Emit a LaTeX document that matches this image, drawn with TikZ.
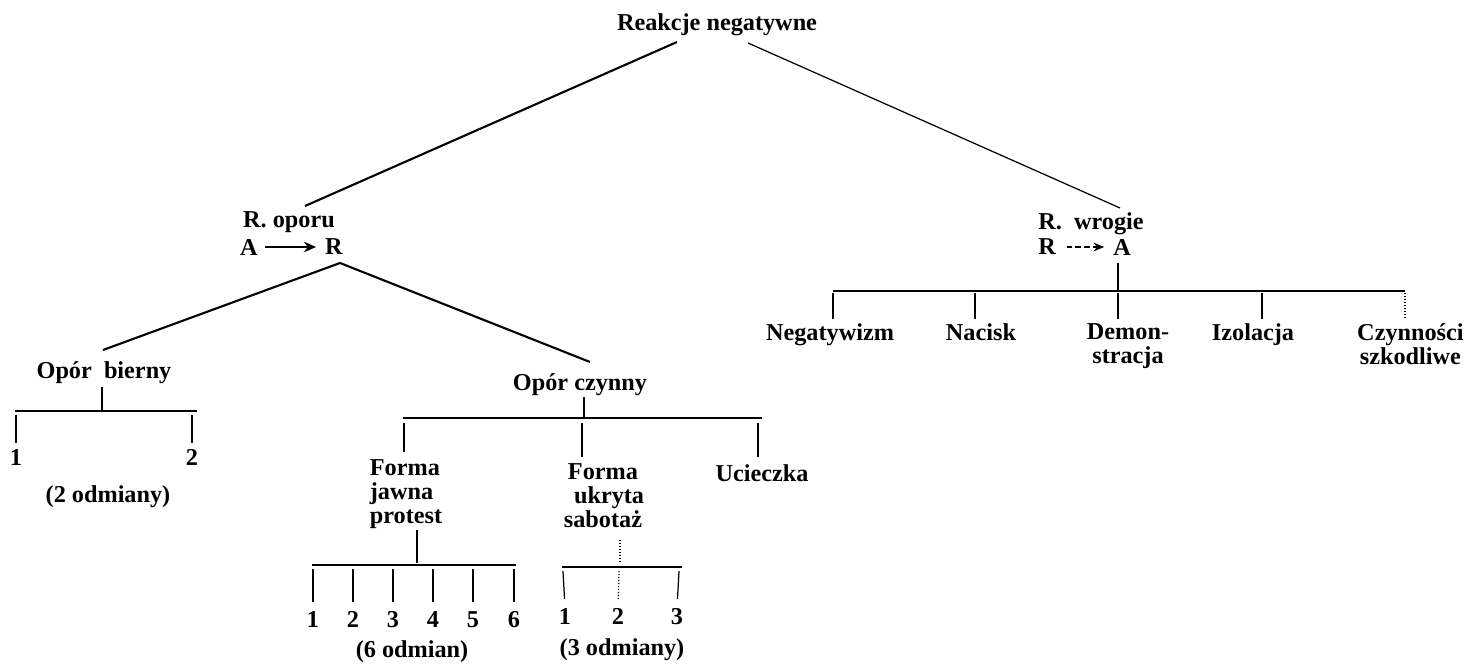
\documentclass[tikz,border=0pt]{standalone}
\usepackage{fontspec}
\setmainfont{Liberation Serif}
\usetikzlibrary{arrows.meta}
\begin{document}
\begin{tikzpicture}[x=0.02cm,y=-0.02cm]
\tikzstyle{every node}=[font=\bfseries\fontsize{13.8}{13.6}\selectfont,inner sep=0pt,align=center];
\tikzstyle{bough}=[line width=1.2pt];
\tikzstyle{bar}=[line width=0.9pt];
\tikzstyle{leg}=[line width=0.7pt];
\tikzstyle{digit}=[anchor=base];
\useasboundingbox (0,0) rectangle (1467,672);

\node (root) at (717,25) {Reakcje negatywne};
\node (oporu) at (289,222) {R.\ oporu};
\node (opA) at (249,247) {A};
\node (opR) at (334,247) {R};
\node (wrogie) at (1091,224) {R.\ \ wrogie};
\node (wrR) at (1047,247) {R};
\node (wrA) at (1122,247) {A};
\draw[line width=1.3pt,-{Stealth[length=7pt,width=6pt]},shorten <=4pt,shorten >=5pt] (opA) -- (opR);
\draw[leg,densely dashed,-{Stealth[length=6pt,width=5pt]},shorten <=6pt,shorten >=5pt] (wrR) -- (wrA);

\coordinate (rootL) at (677,42);
\coordinate (rootR) at (748,43);
\coordinate (oporuTop) at (305,206);
\coordinate (wrogieTop) at (1120,208);
\coordinate (oporuApex) at (340,263);
\coordinate (biernyTop) at (103,350);
\coordinate (czynnyTop) at (590,362);
\draw[bough] (rootL) -- (oporuTop);
\draw[leg] (rootR) -- (wrogieTop);
\draw[bough] (biernyTop) -- (oporuApex) -- (czynnyTop);

% opor bierny
\node (bierny) at (104,373) {Opór\ \ bierny};
\node (bcount) at (108,497) {(2 odmiany)};
\draw[leg] (102,387) -- (102,411);
\draw[bar] (15,411) -- (197,411);
\foreach \n/\x in {1/16,2/192}
  { \node[digit] (b\n) at (\x,465) {\n}; \draw[leg,shorten >=3pt] (\x,415) -- (b\n.north); }

% opor czynny
\node (czynny) at (580,385) {Opór\ czynny};
\draw[leg] (584,397) -- (584,418);
\draw[bar] (403,418) -- (762,418);
\node (jawna) at (406,494) [align=left] {Forma\\jawna\\protest};
\node (ukryta) at (603,496) {Forma\\\ \ ukryta\\sabotaż};
\node (ucieczka) at (762,473) {Ucieczka};
\foreach \name/\x in {jawna/404,ukryta/582,ucieczka/758}
  \draw[leg,shorten >=4pt] (\x,423) -- (\x,0 |- \name.north);

\draw[leg] (417,530) -- (417,563);
\draw[bar] (312,565) -- (516,565);
\foreach \n/\x in {1/313,2/353,3/393,4/433,5/473,6/514}
  { \node[digit] (j\n) at (\x,627) {\n}; \draw[leg,shorten >=5pt] (\x,569) -- (j\n.north); }
\node (jcount) at (412,652) {(6 odmian)};

\draw[leg,densely dotted] (620,540) -- (620,563);
\draw[bar] (562,567) -- (682,567);
\foreach \n/\x in {1/565,2/618,3/677}
  { \node[digit] (u\n) at (\x,624) {\n}; }
\draw[leg,shorten >=5pt] (563,571) -- (u1.north);
\draw[leg,densely dotted,shorten >=5pt] (619,571) -- (u2.north);
\draw[leg,shorten >=5pt] (679,571) -- (u3.north);
\node (ucount) at (622,650) {(3 odmiany)};

% reakcje wrogie
\draw[leg] (1118,263) -- (1118,291);
\draw[bar] (833,291) -- (1405,291);
\node (neg) at (830,323) [anchor=north] {Negatywizm};
\node (nac) at (981,323) [anchor=north] {Nacisk};
\node (dem) at (1128,323) [anchor=north] {Demon-\\stracja};
\node (izo) at (1253,323) [anchor=north] {Izolacja};
\node (czy) at (1464,323) [anchor=north east] {Czynności\\szkodliwe};
\foreach \name/\x in {neg/833,nac/975,dem/1118,izo/1262}
  \draw[leg,shorten >=2pt] (\x,293) -- (\x,0 |- \name.north);
\draw[leg,densely dotted,shorten >=2pt] (1405,293) -- (1405,0 |- czy.north);
\end{tikzpicture}
\end{document}
